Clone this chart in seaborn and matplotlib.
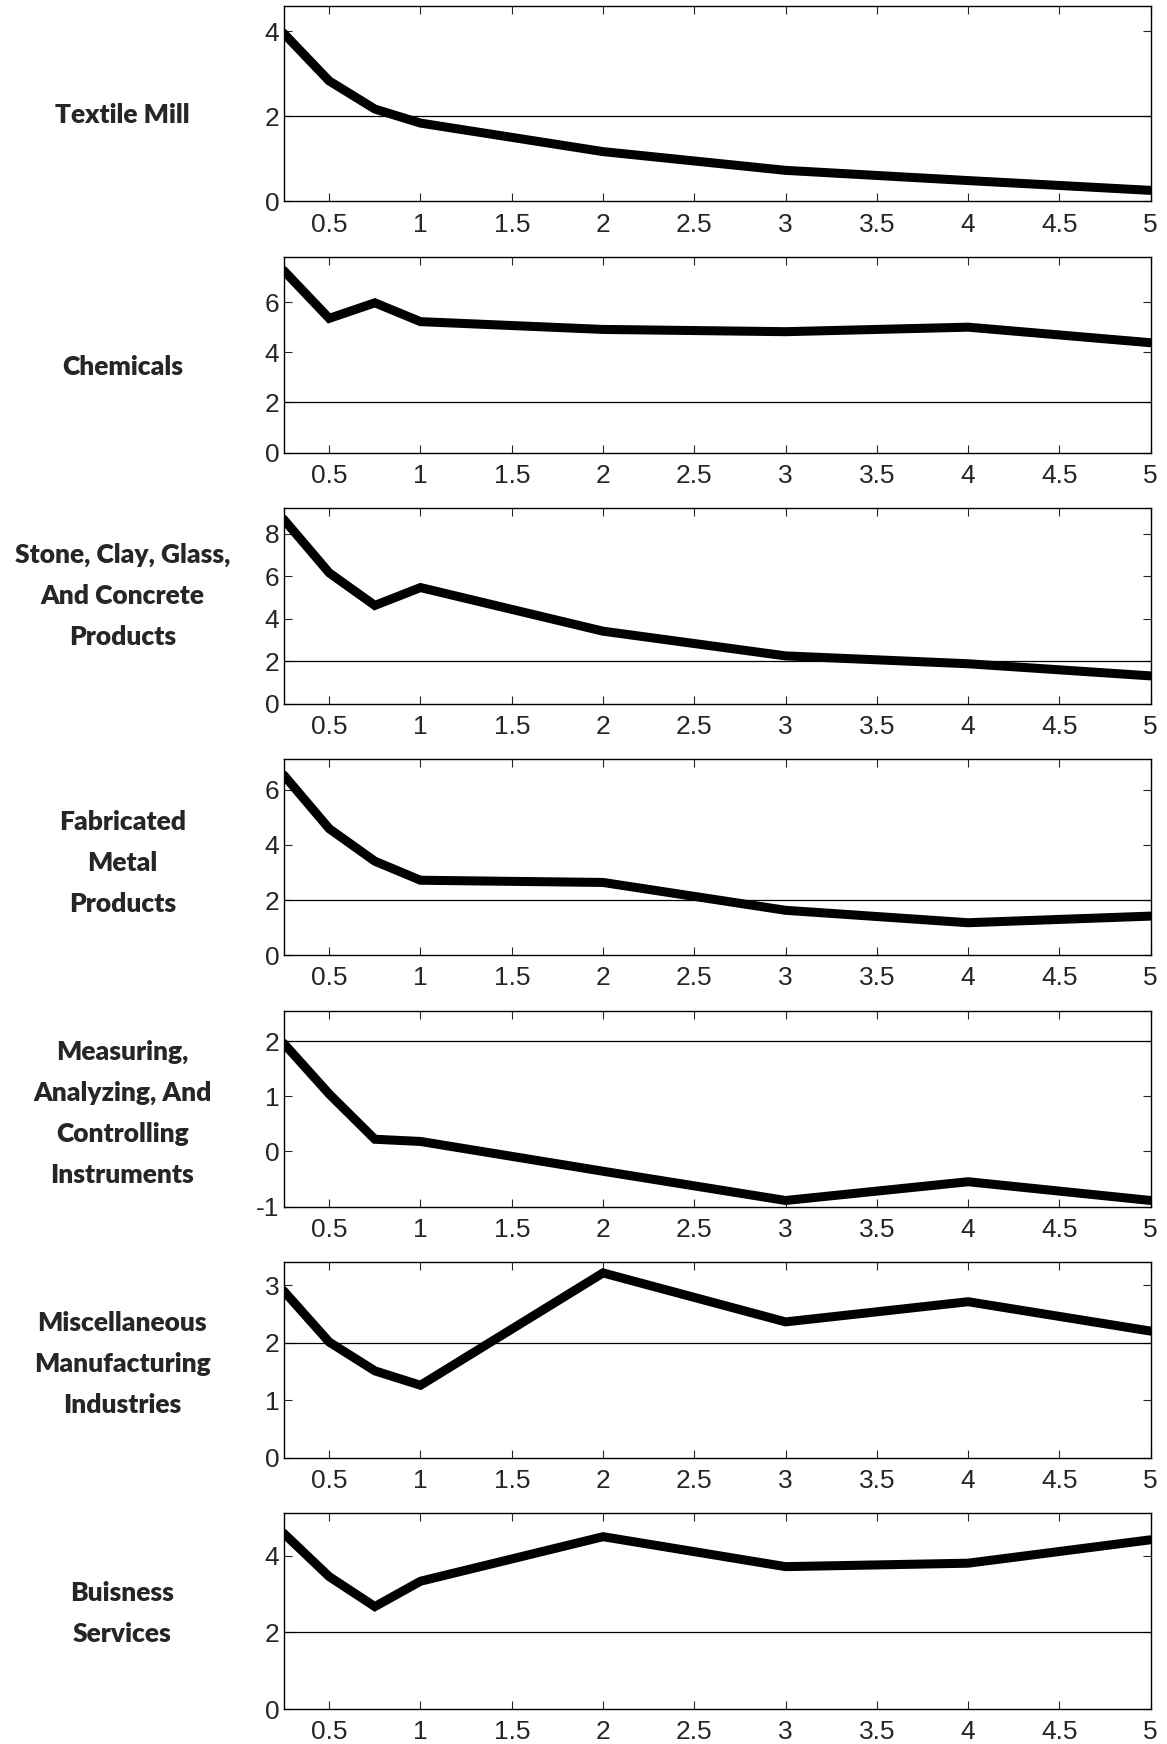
import pandas as pd
import matplotlib
matplotlib.use("Agg")
import matplotlib.pyplot as plt
import seaborn as sns

# horizon values (x) and response per industry
horizon = [0.25, 0.5, 0.75, 1, 2, 3, 4, 5]

industries = [
    "Textile Mill",
    "Chemicals",
    "Stone, Clay, Glass,\nAnd Concrete\nProducts",
    "Fabricated\nMetal\nProducts",
    "Measuring,\nAnalyzing, And\nControlling\nInstruments",
    "Miscellaneous\nManufacturing\nIndustries",
    "Buisness\nServices",
]

textile = [3.95, 2.83, 2.17, 1.84, 1.17, 0.73, 0.49, 0.26]
chemicals = [7.26, 5.35, 5.97, 5.22, 4.91, 4.82, 5.0, 4.38]
stone = [8.68, 6.16, 4.63, 5.47, 3.42, 2.26, 1.89, 1.32]
fabricated = [6.54, 4.59, 3.41, 2.72, 2.64, 1.63, 1.18, 1.42]
measuring = [1.96, 1.04, 0.22, 0.18, -0.36, -0.89, -0.55, -0.89]
misc = [2.9, 2.01, 1.51, 1.26, 3.21, 2.36, 2.71, 2.2]
business = [4.58, 3.45, 2.67, 3.33, 4.49, 3.71, 3.8, 4.41]

series = [textile, chemicals, stone, fabricated, measuring, misc, business]

y_limits = [(0, 4.6), (0, 7.8), (0, 9.2), (0, 7.1), (-1, 2.55), (0, 3.4), (0, 5.1)]
y_ticks = [[0, 2, 4], [0, 2, 4, 6], [0, 2, 4, 6, 8], [0, 2, 4, 6],
           [-1, 0, 1, 2], [0, 1, 2, 3], [0, 2, 4]]
x_ticks = [0.5, 1, 1.5, 2, 2.5, 3, 3.5, 4, 4.5, 5]

# vertical placement of each row label (axes fraction)
label_y = [0.44, 0.44, 0.55, 0.47, 0.475, 0.48, 0.49]

sns.set_style("ticks")
plt.rcParams["font.family"] = ["Liberation Sans", "DejaVu Sans"]

fig, axes = plt.subplots(7, 1, figsize=(11.67, 17.44), dpi=100)
fig.subplots_adjust(left=0.243, right=0.986, top=0.9968, bottom=0.02, hspace=0.283)


def fmt(v):
    return f"{v:g}"


for ax, name, vals, ylim, yt, ly in zip(axes, industries, series, y_limits, y_ticks, label_y):
    df = pd.DataFrame({"horizon": horizon, "value": vals})
    sns.lineplot(data=df, x="horizon", y="value", ax=ax, color="black",
                 linewidth=6.5, solid_joinstyle="miter")
    ax.axhline(2, color="black", linewidth=0.9, zorder=1)
    ax.set_xlim(0.25, 5)
    ax.set_ylim(*ylim)
    ax.set_xticks(x_ticks)
    ax.set_xticklabels([fmt(t) for t in x_ticks], family="Liberation Sans")
    ax.set_yticks(yt)
    ax.set_yticklabels([fmt(t) for t in yt], family="Liberation Sans")
    ax.set_xlabel("")
    ax.set_ylabel("")
    ax.tick_params(direction="in", top=True, right=True, length=6,
                   width=0.8, labelsize=19)
    ax.tick_params(axis="x", pad=8)
    ax.tick_params(axis="y", pad=3)
    for sp in ax.spines.values():
        sp.set_linewidth(1.0)
        sp.set_color("black")
    ax.text(-0.186, ly, name, transform=ax.transAxes, ha="center",
            va="center", fontsize=19, fontweight="heavy", family="Lato",
            linespacing=1.85)

plt.savefig("out.png", dpi=100)
